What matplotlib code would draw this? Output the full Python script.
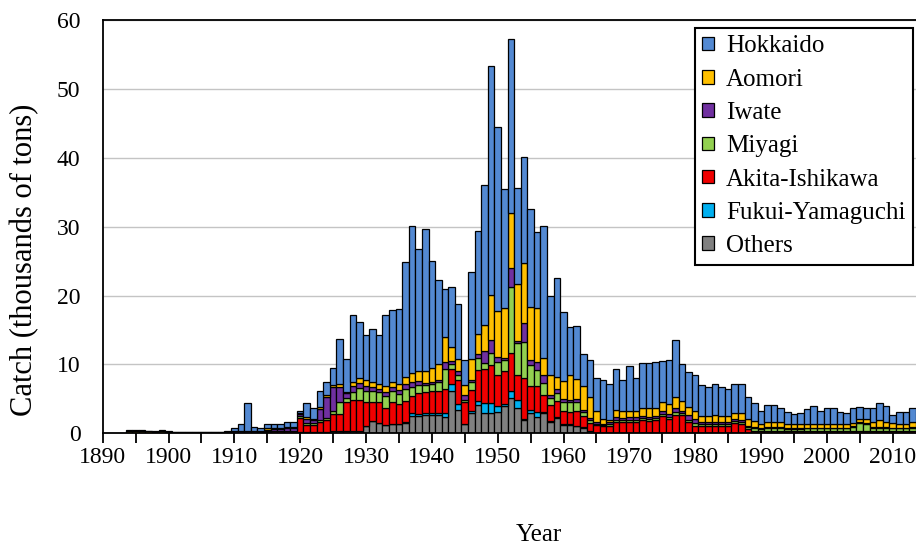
import numpy as np
import matplotlib.pyplot as plt
from matplotlib.ticker import MultipleLocator

plt.rcParams['font.family'] = 'Liberation Serif'

# catch by prefecture, thousands of tons, 1894-2013
years = list(range(1894, 2014))

others = [0.05, 0.05, 0.05, 0.05, 0.05, 0.05,
          0.05, 0.05, 0.05, 0.05, 0.05, 0.05, 0.05, 0.05, 0.05, 0.05,
          0.1, 0.1, 0.1, 0.1, 0.1, 0.1, 0.1, 0.1, 0.1, 0.1,
          0.2, 0.2, 0.2, 0.2, 0.2, 0.3, 0.3, 0.3, 0.3, 0.3,
          1.0, 1.8, 1.5, 1.2, 1.3, 1.3, 1.5, 2.5, 2.5, 2.7,
          2.7, 2.6, 2.4, 6.2, 3.4, 1.3, 2.9, 4.1, 2.9, 2.9,
          3.1, 3.9, 5.1, 3.6, 1.9, 2.9, 2.4, 2.9, 1.7, 2.2,
          1.2, 1.2, 1.0, 0.8, 0.3, 0.1, 0.1, 0.1, 0.1, 0.1,
          0.1, 0.1, 0.1, 0.1, 0.1, 0.1, 0.1, 0.1, 0.1, 0.1,
          0.1, 0.1, 0.1, 0.1, 0.1, 0.1, 0.1, 0.1, 0.1, 0.1,
          0.1, 0.1, 0.1, 0.1, 0.1, 0.1, 0.1, 0.1, 0.1, 0.1,
          0.1, 0.1, 0.1, 0.1, 0.1, 0.1, 0.1, 0.1, 0.1, 0.1,
          0.1, 0.1, 0.1, 0.1]

fukui = [0, 0, 0, 0, 0, 0,
         0, 0, 0, 0, 0, 0, 0, 0, 0, 0,
         0, 0, 0, 0, 0, 0, 0, 0, 0, 0,
         0, 0, 0, 0, 0, 0, 0, 0, 0, 0,
         0, 0, 0, 0, 0, 0, 0.2, 0.4, 0.3, 0.3,
         0.2, 0.3, 0.5, 0.9, 0.8, 0.1, 0.3, 0.6, 1.5, 1.5,
         0.8, 0.3, 1.0, 1.2, 0.2, 0.5, 0.7, 0.2, 0.1, 0.1,
         0.1, 0.1, 0.1, 0.1, 0, 0, 0, 0, 0, 0,
         0, 0, 0, 0, 0, 0, 0, 0, 0, 0,
         0, 0, 0, 0, 0, 0, 0, 0, 0, 0,
         0, 0, 0, 0, 0, 0, 0, 0, 0, 0,
         0, 0, 0, 0, 0, 0, 0, 0, 0, 0,
         0, 0, 0, 0]

akita = [0, 0, 0, 0, 0, 0,
         0, 0, 0, 0, 0, 0, 0, 0, 0, 0,
         0, 0, 0, 0, 0, 0.1, 0.2, 0.2, 0.2, 0.2,
         2.0, 1.0, 1.0, 1.5, 1.7, 2.5, 2.5, 4.3, 4.5, 4.5,
         3.5, 2.8, 3.0, 2.5, 3.3, 3.0, 3.0, 2.5, 3.0, 3.0,
         3.2, 3.3, 3.6, 2.2, 3.5, 3.2, 3.1, 4.5, 5.0, 5.5,
         4.6, 4.8, 5.5, 3.7, 5.9, 3.4, 3.7, 2.5, 2.3, 2.4,
         1.9, 1.8, 2.1, 1.6, 1.2, 1.1, 0.9, 1.0, 1.6, 1.5,
         1.6, 1.6, 1.8, 1.7, 1.8, 2.4, 2.0, 2.6, 2.5, 1.5,
         1.0, 1.0, 1.0, 1.0, 1.0, 1.0, 1.4, 1.3, 0.5, 0.3,
         0.2, 0.2, 0.2, 0.2, 0.2, 0.2, 0.2, 0.2, 0.2, 0.2,
         0.2, 0.2, 0.2, 0.2, 0.2, 0.2, 0.2, 0.2, 0.2, 0.2,
         0.2, 0.2, 0.2, 0.2]

miyagi = [0, 0, 0, 0, 0, 0,
          0, 0, 0, 0, 0, 0, 0, 0, 0, 0,
          0, 0, 0, 0, 0, 0.1, 0.1, 0.1, 0.1, 0.1,
          0.3, 0.3, 0.3, 0.3, 0.3, 0.4, 1.7, 0.5, 1.2, 1.8,
          1.6, 1.5, 1.5, 1.7, 1.6, 1.4, 1.8, 1.3, 1.2, 1.0,
          1.1, 1.2, 2.9, 0.8, 0.8, 0.3, 1.2, 1.7, 0.8, 1.7,
          1.9, 1.7, 9.7, 4.6, 5.3, 3.1, 2.4, 1.7, 1.0, 1.2,
          1.4, 1.5, 1.4, 0.6, 0.5, 0.2, 0.2, 0.3, 0.3, 0.3,
          0.3, 0.3, 0.3, 0.3, 0.3, 0.3, 0.3, 0.4, 0.3, 0.4,
          0.4, 0.3, 0.3, 0.3, 0.3, 0.3, 0.3, 0.3, 0.3, 0.3,
          0.3, 0.4, 0.4, 0.4, 0.3, 0.3, 0.3, 0.4, 0.4, 0.4,
          0.4, 0.4, 0.4, 0.4, 0.6, 1.2, 1.1, 0.5, 0.5, 0.5,
          0.4, 0.4, 0.4, 0.5]

iwate = [0.05, 0.05, 0.05, 0.05, 0.05, 0.05,
         0.05, 0.05, 0.05, 0.05, 0.05, 0.05, 0.05, 0.05, 0.05, 0.1,
         0.2, 0.2, 0.2, 0.2, 0.1, 0.2, 0.2, 0.2, 0.3, 0.3,
         0.3, 0.6, 0.5, 1.5, 3.0, 3.5, 2.2, 0.7, 0.8, 0.7,
         0.8, 0.6, 0.5, 0.6, 0.5, 0.6, 0.6, 0.8, 0.6, 0.3,
         0.3, 0.4, 1.0, 0.4, 0.5, 0.6, 0.3, 0.6, 1.7, 2.0,
         0.7, 0.3, 2.7, 0.3, 2.7, 0.8, 1.2, 1.2, 0.5, 0.5,
         0.4, 0.3, 0.4, 0.3, 0.2, 0.3, 0.2, 0.2, 0.3, 0.3,
         0.3, 0.3, 0.3, 0.3, 0.3, 0.4, 0.4, 0.5, 0.4, 0.6,
         0.6, 0.3, 0.3, 0.3, 0.3, 0.3, 0.3, 0.3, 0.2, 0.2,
         0.1, 0.2, 0.2, 0.2, 0.1, 0.1, 0.1, 0.1, 0.1, 0.1,
         0.1, 0.1, 0.1, 0.1, 0.1, 0.1, 0.1, 0.1, 0.1, 0.1,
         0.1, 0.1, 0.1, 0.1]

aomori = [0.3, 0.3, 0.3, 0.2, 0.15, 0.25,
          0.1, 0.05, 0.05, 0.05, 0.05, 0.05, 0.03, 0.05, 0.05, 0.05,
          0.1, 0.1, 0.1, 0.1, 0.1, 0.2, 0.2, 0.2, 0.2, 0.2,
          0.1, 0.2, 0.1, 0.3, 0.3, 0.3, 0.4, 0.2, 0.6, 0.7,
          0.8, 0.8, 0.7, 0.8, 0.8, 0.9, 1.0, 1.2, 1.5, 1.8,
          2.0, 2.3, 3.6, 2.0, 1.8, 1.5, 3.0, 2.9, 3.8, 6.5,
          6.6, 7.2, 8.0, 8.2, 8.7, 7.7, 7.8, 2.4, 2.9, 1.7,
          2.6, 3.6, 2.9, 3.4, 3.1, 1.6, 0.7, 0.4, 1.1, 1.0,
          1.0, 1.0, 1.1, 1.3, 1.2, 1.3, 1.4, 1.6, 1.4, 1.2,
          1.2, 0.8, 0.8, 0.9, 0.8, 0.8, 0.9, 0.9, 1.0, 0.9,
          0.6, 0.8, 0.8, 0.7, 0.6, 0.6, 0.6, 0.6, 0.6, 0.5,
          0.6, 0.6, 0.5, 0.5, 0.5, 0.5, 0.6, 0.7, 1.0, 0.8,
          0.7, 0.6, 0.6, 0.8]

hokkaido = [0.15, 0.15, 0.15, 0.1, 0.1, 0.1,
            0.1, 0.05, 0.05, 0.05, 0.1, 0.05, 0.02, 0.05, 0.1, 0.2,
            0.4, 1.0, 4.0, 0.5, 0.4, 0.6, 0.6, 0.6, 0.7, 0.7,
            0.4, 2.1, 1.6, 2.3, 2.0, 2.5, 6.6, 4.8, 9.7, 8.2,
            6.6, 7.6, 7.0, 10.3, 10.4, 10.9, 16.8, 21.4, 17.6, 20.5,
            15.5, 12.2, 6.9, 8.7, 8.0, 3.6, 12.6, 14.9, 20.4, 33.2,
            26.7, 17.3, 25.2, 14.0, 15.4, 14.2, 11.0, 19.2, 11.5, 14.5,
            10.0, 6.9, 7.7, 4.7, 5.3, 4.7, 5.7, 5.1, 6.0, 4.6,
            6.5, 4.7, 6.6, 6.5, 6.6, 6.0, 6.4, 8.3, 5.4, 5.1,
            5.1, 4.5, 4.2, 4.6, 4.2, 3.9, 4.2, 4.2, 3.1, 2.65,
            2.0, 2.4, 2.4, 2.0, 1.75, 1.5, 1.6, 2.1, 2.5, 1.9,
            2.3, 2.3, 1.8, 1.6, 2.1, 1.7, 1.6, 2.0, 2.55, 2.2,
            1.15, 1.7, 1.7, 1.9]

# bottom to top of the stack
series = [('Others', others, '#808080'),
          ('Fukui-Yamaguchi', fukui, '#00B0F0'),
          ('Akita-Ishikawa', akita, '#F00000'),
          ('Miyagi', miyagi, '#92D050'),
          ('Iwate', iwate, '#7030A0'),
          ('Aomori', aomori, '#FFC000'),
          ('Hokkaido', hokkaido, '#5389D2')]

fig = plt.figure(figsize=(9.16, 5.5), dpi=100)
ax = fig.add_axes([0.1121, 0.2122, 0.9523, 0.7515])

bottom = np.zeros(len(years))
handles = []
for name, vals, col in series:
    b = ax.bar(years, vals, width=1.0, bottom=bottom, color=col,
               edgecolor='black', linewidth=0.9, label=name, zorder=2)
    handles.append(b)
    bottom += np.array(vals)

ax.set_xlim(1890, 2022.5)
ax.set_ylim(0, 60)
ax.set_xticks(range(1890, 2011, 10))
ax.xaxis.set_minor_locator(MultipleLocator(5))
ax.set_yticks(range(0, 61, 10))
ax.tick_params(axis='x', which='both', direction='out', length=7, width=1.3,
               labelsize=17, pad=3)
ax.tick_params(axis='y', length=0, labelsize=17, pad=16)
ax.yaxis.grid(True, color='#c4c4c4', linewidth=1.0)
ax.set_axisbelow(True)
for s in ['left', 'bottom', 'top']:
    ax.spines[s].set_linewidth(1.3)
ax.spines['right'].set_visible(False)

ax.set_xlabel('Year', fontsize=18, labelpad=40)
ax.set_ylabel('Catch (thousands of tons)', fontsize=22)
ax.yaxis.set_label_coords(-0.073, 0.42)

leg = ax.legend(handles[::-1], [s[0] for s in series][::-1],
                loc='upper right', bbox_to_anchor=(913 / 916, 1 - 28 / 550),
                bbox_transform=fig.transFigure, fontsize=18,
                frameon=True, fancybox=False, framealpha=1, edgecolor='black',
                borderpad=0.3, labelspacing=0.45, handlelength=0.45,
                handleheight=0.45, handletextpad=0.5, borderaxespad=0)
leg.get_frame().set_linewidth(1.5)

fig.savefig('out.png', dpi=100)
